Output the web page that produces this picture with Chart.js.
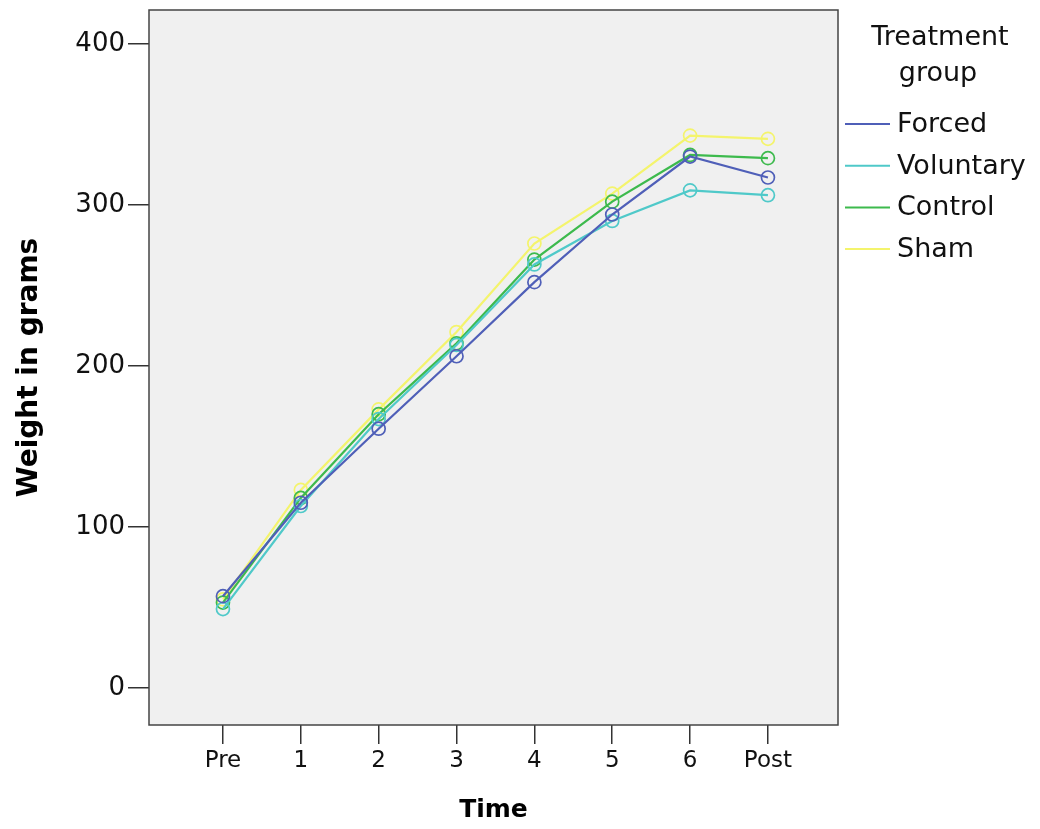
<!DOCTYPE html>
<html>
<head>
<meta charset="utf-8">
<script src="https://cdn.jsdelivr.net/npm/chart.js@4/dist/chart.umd.min.js"></script>
<style>
  html, body { margin:0; padding:0; background:#fff; }
  #wrap { width:1040px; height:829px; position:relative; }
</style>
</head>
<body>
<div id="wrap"><canvas id="weight-chart"></canvas></div>
<script>
// weight by time point, per treatment group
const timeLabels = ["Pre","1","2","3","4","5","6","Post"];
const groupNames = ["Forced","Voluntary","Control","Sham"];
const groupColors = ["#4f5fb8","#4fc9c9","#3dba4d","#f4f46c"];
const forced    = [57, 115, 161, 206, 252, 294, 330, 317];
const voluntary = [49, 113, 167, 213, 263, 290, 309, 306];
const control   = [53, 118, 170, 214, 266, 302, 331, 329];
const sham      = [55, 123, 173, 221, 276, 307, 343, 341];
const groupValues = [forced, voluntary, control, sham];
const yTicks = [0, 100, 200, 300, 400];

// grey plot box with a frame
const plotBox = {
  id:'plotBox',
  beforeDatasetsDraw(chart) {
    const { ctx, chartArea:{left, top, width, height} } = chart;
    ctx.save();
    ctx.fillStyle = '#f0f0f0';
    ctx.fillRect(left, top, width, height);
    ctx.restore();
  },
  afterDraw(chart) {
    const { ctx, chartArea:{left, top, width, height} } = chart;
    ctx.save();
    ctx.strokeStyle = '#444';
    ctx.lineWidth = 1.5;
    ctx.strokeRect(left, top, width, height);
    ctx.restore();
  }
};

// legend on the right side, title on two lines
const sideLegend = {
  id:'sideLegend',
  afterDraw(chart) {
    const { ctx } = chart;
    ctx.save();
    ctx.font = '27px "DejaVu Sans"';
    ctx.fillStyle = '#111';
    ctx.textAlign = 'center';
    ctx.textBaseline = 'middle';
    ctx.fillText('Treatment', 940, 38);
    ctx.fillText('group', 938, 74);
    ctx.textAlign = 'left';
    chart.data.datasets.forEach((ds, i) => {
      const y = 124 + i * 41.7;
      ctx.strokeStyle = ds.borderColor;
      ctx.lineWidth = 2;
      ctx.beginPath();
      ctx.moveTo(845, y);
      ctx.lineTo(890, y);
      ctx.stroke();
      ctx.fillStyle = '#111';
      ctx.fillText(ds.label, 897, y + 1);
    });
    ctx.restore();
  }
};

let weightCanvas = document.getElementById('weight-chart').getContext('2d');
let weightConfig = {
  type:'line',
  data:{
    datasets: groupNames.map((name, g) => ({
      label: name,
      data: groupValues[g].map((v, i) => ({x:i, y:v})),
      borderColor: groupColors[g],
      borderWidth: 2.2,
      pointRadius: 6.5,
      pointBorderWidth: 1.7,
      pointBackgroundColor: 'rgba(0,0,0,0)',
      pointBorderColor: groupColors[g],
      tension: 0
    }))
  },
  options:{
    responsive:false,
    animation:false,
    layout:{ padding:{ left:0, right:202, top:10, bottom:0 } },
    scales:{
      x:{
        type:'linear',
        min:-0.95,
        max:7.9,
        afterBuildTicks: (scale) => { scale.ticks = timeLabels.map((_, i) => ({value:i})); },
        afterFit: (scale) => { scale.height = 104; scale.paddingLeft = 0; scale.paddingRight = 0; },
        grid:{ drawOnChartArea:false, drawTicks:true, tickLength:19, color:'#333', lineWidth:1.5 },
        border:{ display:false },
        ticks:{
          autoSkip:false,
          maxRotation:0,
          padding:3,
          color:'#111',
          font:{ family:'"DejaVu Sans"', size:23 },
          callback: (value) => timeLabels[value]
        },
        title:{
          display:true,
          text:'Time',
          color:'#000',
          font:{ family:'"DejaVu Sans"', size:25, weight:'bold' },
          padding:{ top:0, bottom:4 }
        }
      },
      y:{
        min:-23,
        max:421,
        afterBuildTicks: (scale) => { scale.ticks = yTicks.map(v => ({value:v})); },
        afterFit: (scale) => { scale.width = 149; scale.paddingTop = 0; scale.paddingBottom = 0; },
        grid:{ drawOnChartArea:false, drawTicks:true, tickLength:21, color:'#333', lineWidth:1.5 },
        border:{ display:false },
        ticks:{
          padding:3,
          color:'#111',
          font:{ family:'"DejaVu Sans"', size:26 }
        },
        title:{
          display:true,
          text:'Weight in grams',
          color:'#000',
          font:{ family:'"DejaVu Sans"', size:28, weight:'bold' },
          padding:{ top:13, bottom:0 }
        }
      }
    },
    plugins:{
      legend:{ display:false },
      tooltip:{ enabled:false }
    }
  },
  plugins:[plotBox, sideLegend]
};
document.getElementById('weight-chart').width = 1040;
document.getElementById('weight-chart').height = 829;
let weightChart = new Chart(weightCanvas, weightConfig);
</script>
</body>
</html>
